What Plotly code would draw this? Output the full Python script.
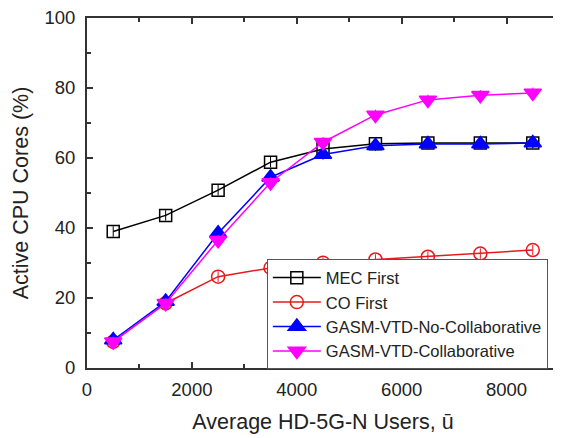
import plotly.graph_objects as go

users = [500, 1500, 2500, 3500, 4500, 5500, 6500, 7500, 8500]
mec_first = [39.0, 43.6, 50.8, 58.8, 62.6, 64.1, 64.3, 64.3, 64.3]
co_first = [7.5, 18.5, 26.1, 28.6, 30.1, 31.0, 31.8, 32.7, 33.7]
gasm_no_collab = [8.0, 19.0, 38.5, 54.5, 61.0, 63.5, 64.0, 64.0, 64.3]
gasm_collab = [7.5, 18.5, 36.5, 53.0, 64.5, 72.3, 76.6, 77.9, 78.6]
err = [1.5, 1.5, 1.5, 1.5, 1.5, 1.5, 1.5, 1.5, 1.5]

series = [
    ("MEC First", mec_first, "black", "square-open", 12),
    ("CO First", co_first, "#e8191c", "circle-open", 13),
    ("GASM-VTD-No-Collaborative", gasm_no_collab, "#0000ff", "triangle-up", 15),
    ("GASM-VTD-Collaborative", gasm_collab, "#ff00ff", "triangle-down", 15),
]

fig = go.Figure()
for name, vals, color, sym, size in series:
    fig.add_trace(go.Scatter(
        x=users, y=vals, name=name, mode="lines+markers",
        line=dict(color=color, width=1.5),
        marker=dict(symbol=sym, size=size, color=color, line=dict(color=color, width=1.5)),
        error_y=dict(type="data", array=err, visible=True, color=color, thickness=1, width=0),
    ))

font_fam = "Arial, Liberation Sans, sans-serif"
axis_common = dict(
    showline=True, linecolor="#333", linewidth=2, mirror="ticks",
    ticks="inside", ticklen=6, tickwidth=1.5, tickcolor="#333",
    showgrid=False, zeroline=False, automargin=False,
    ticklabeloverflow="allow",
    tickfont=dict(family=font_fam, size=18.5, color="#222"),
)

fig.update_xaxes(
    range=[0, 9000], dtick=2000, tick0=0,
    minor=dict(dtick=1000, ticks="inside", ticklen=4, tickcolor="#333"),
    ticklabelstandoff=4,
    title=dict(text="Average HD-5G-N Users, u\u0304",
               font=dict(family=font_fam, size=21.5, color="#222")),
    **axis_common,
)
fig.update_yaxes(
    range=[0, 100], dtick=20, tick0=0,
    minor=dict(dtick=10, ticks="inside", ticklen=4, tickcolor="#333"),
    ticklabelstandoff=6,
    title=dict(text="Active CPU Cores (%)", standoff=10,
               font=dict(family=font_fam, size=21.5, color="#222")),
    **axis_common,
)

fig.update_layout(
    width=553, height=430,
    margin=dict(l=79, r=2, t=10, b=70),
    paper_bgcolor="white", plot_bgcolor="white",
    legend=dict(
        x=0.381, y=-0.004, xanchor="left", yanchor="bottom",
        bgcolor="white", bordercolor="#555", borderwidth=1,
        font=dict(family=font_fam, size=16.5, color="#222"),
        tracegroupgap=0, itemwidth=48,
    ),
)

fig.write_html("out.html")
